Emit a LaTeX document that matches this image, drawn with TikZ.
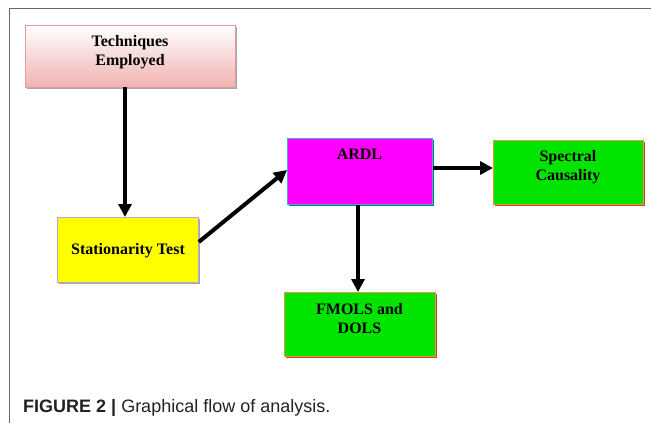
\documentclass[tikz,border=0pt]{standalone}
\usepackage{fontspec}
\setmainfont{Liberation Serif}
\newfontfamily\capfont{Liberation Sans}
\usetikzlibrary{arrows.meta}
\definecolor{pinkbot}{HTML}{F0B2B2}
\definecolor{pinkedge}{HTML}{E89A9A}
\definecolor{yel}{HTML}{FFFF00}
\definecolor{lav}{HTML}{B8A8D0}
\definecolor{mag}{HTML}{FF00FF}
\definecolor{cyanedge}{HTML}{3AB0D8}
\definecolor{tealshadow}{HTML}{1F6F80}
\definecolor{grn}{HTML}{00E400}
\definecolor{orangeedge}{HTML}{F09040}
\definecolor{orangeshadow}{HTML}{C05010}
\definecolor{capgray}{HTML}{222222}
\tikzset{
  box/.style n args={2}{rectangle, minimum width=#1, minimum height=#2, inner sep=0pt,
    anchor=north west, line width=0.8pt},
  lbl/.style={anchor=base, align=center, inner sep=0pt,
    font=\fontsize{16}{19}\selectfont\bfseries},
  flow/.style={line width=4pt, -{Triangle[length=13pt,width=13pt]}},
}
\begin{document}
\begin{tikzpicture}[x=1pt,y=-1pt]
\useasboundingbox (0,0) rectangle (651,423);
\draw[line width=0.8pt, black!60] (9,423) -- (9,8) -- (651,8);
% Techniques Employed
\fill[black!35] (27,27) rectangle (237,89);
\shade[top color=white, bottom color=pinkbot] (25,25) rectangle (235,87);
\node[box={210pt}{62pt}, draw=pinkedge] (tech) at (25,25) {};
\node[lbl] (techtxt) at (130,65) {Techniques\\Employed};
% Stationarity
\fill[black!35] (59,219) rectangle (200,284);
\node[box={141pt}{65pt}, fill=yel, draw=lav] (stat) at (57,217) {};
\node[lbl] (stattxt) at (128,254) {Stationarity Test};
% ARDL
\fill[tealshadow] (289,140) rectangle (434,206);
\node[box={145pt}{66pt}, fill=mag, draw=cyanedge] (ardl) at (287,138) {};
\node[lbl] (ardltxt) at (359.5,159) {ARDL};
% Spectral
\fill[orangeshadow] (495,142) rectangle (645,206);
\node[box={150pt}{64pt}, fill=grn, draw=orangeedge] (spec) at (493,140) {};
\node[lbl] (spectxt) at (568,180) {Spectral\\Causality};
% FMOLS
\fill[orangeshadow] (286,294) rectangle (437,358);
\node[box={151pt}{64pt}, fill=grn, draw=orangeedge] (fm) at (284,292) {};
\node[lbl] (fmtxt) at (359.5,333) {FMOLS and\\DOLS};
% arrows
\draw[flow] (125,87) -- (stat.north -| 125,0);
\draw[flow] (stat.east |- 0,242) -- (ardl.west |- 0,170);
\draw[flow] (ardl.east |- 0,168) -- (spec.west |- 0,168);
\draw[flow] (ardl.south -| 358,0) -- (fm.north -| 358,0);
% caption
\node[anchor=base west, inner sep=0pt, text=capgray, font=\capfont\fontsize{18}{20}\selectfont] (cap) at (23,412)
  {\textbf{FIGURE 2 |} Graphical flow of analysis.};
\end{tikzpicture}
\end{document}
